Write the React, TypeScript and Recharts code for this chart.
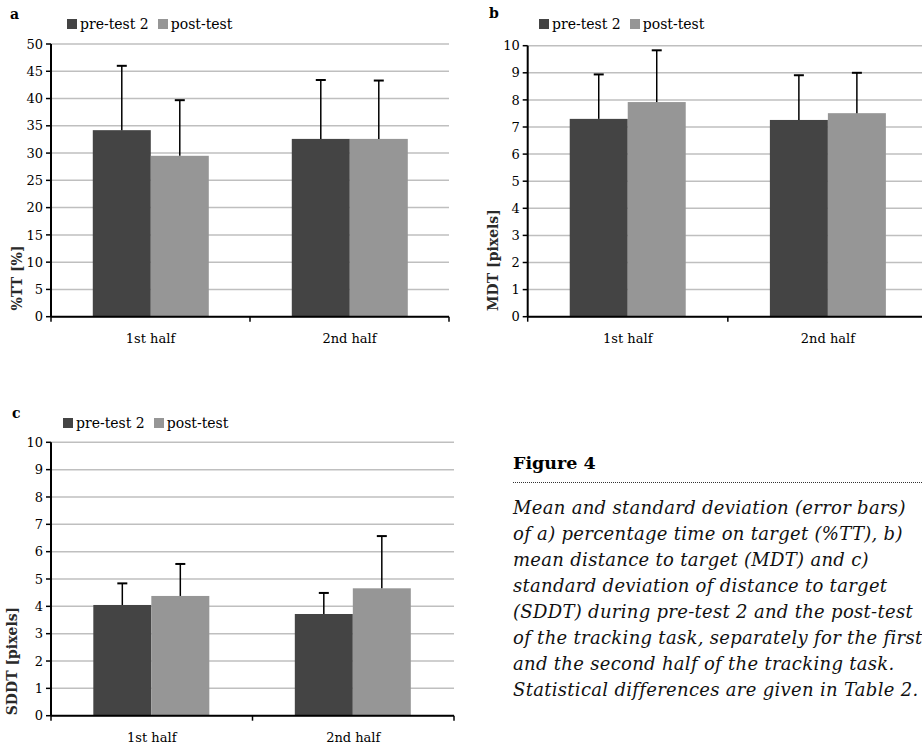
import { BarChart, Bar, XAxis, YAxis, CartesianGrid, Label } from 'recharts';

const halves = ['1st half', '2nd half'];

// a) percentage time on target
const ttPre = [34.2, 32.6];
const ttPreSd = [11.8, 10.8];
const ttPost = [29.5, 32.6];
const ttPostSd = [10.2, 10.7];
const ttTicks = [0, 5, 10, 15, 20, 25, 30, 35, 40, 45, 50];

// b) mean distance to target
const mdtPre = [7.3, 7.26];
const mdtPreSd = [1.64, 1.65];
const mdtPost = [7.92, 7.51];
const mdtPostSd = [1.91, 1.49];

// c) SD of distance to target
const sddtPre = [4.05, 3.72];
const sddtPreSd = [0.79, 0.77];
const sddtPost = [4.38, 4.66];
const sddtPostSd = [1.17, 1.91];

const pxTicks = [0, 1, 2, 3, 4, 5, 6, 7, 8, 9, 10];

const captionLines = [
  'Mean and standard deviation (error bars)',
  'of a) percentage time on target (%TT), b)',
  'mean distance to target (MDT) and c)',
  'standard deviation of distance to target',
  '(SDDT) during pre-test 2 and the post-test',
  'of the tracking task, separately for the first',
  'and the second half of the tracking task.',
  'Statistical differences are given in Table 2.',
];

const DARK = '#444444';
const LIGHT = '#969696';
const FONT = '"DejaVu Serif", serif';

const toRows = (pre: number[], preSd: number[], post: number[], postSd: number[]) =>
  halves.map((half, i) => ({ half, pre: pre[i], preSd: preSd[i], post: post[i], postSd: postSd[i] }));

// bar plus a one-sided (upward) SD whisker, scaled from the bar's own height
const barWithSd = (key: string, sdKey: string) => (props: any) => {
  const { x, y, width, height, fill, payload } = props;
  const v = payload[key];
  const pxPerUnit = v ? height / v : 0;
  const cx = x + width / 2;
  const top = y - payload[sdKey] * pxPerUnit;
  return (
    <g>
      <rect x={x} y={y} width={width} height={height} fill={fill} />
      <line x1={cx} y1={y} x2={cx} y2={top} stroke="#000" strokeWidth={1.5} />
      <line x1={cx - 5} y1={top} x2={cx + 5} y2={top} stroke="#000" strokeWidth={2} />
    </g>
  );
};

// category label with tick marks on the band edges
const HalfTick = (props: any) => {
  const { x, y, payload, index, visibleTicksCount } = props;
  const half = payload?.offset ?? 0;
  const axisY = y - 5;
  return (
    <g>
      {half > 0 && (
        <line x1={x - half} x2={x - half} y1={axisY} y2={axisY + 5} stroke="#000" strokeWidth={1.5} />
      )}
      {half > 0 && index === visibleTicksCount - 1 && (
        <line x1={x + half} x2={x + half} y1={axisY} y2={axisY + 5} stroke="#000" strokeWidth={1.5} />
      )}
      <text x={x} y={y + 21} textAnchor="middle" fill="#000" fontSize={13} fontFamily={FONT}>
        {payload.value}
      </text>
    </g>
  );
};

const axisTitle = (text: string, tx: number, ty: number) => () => (
  <text
    transform={`translate(${tx},${ty}) rotate(-90)`}
    textAnchor="middle"
    dominantBaseline="central"
    fontSize={14}
    fontWeight="bold"
    fontFamily={FONT}
    fill="#2a2a2a"
  >
    {text}
  </text>
);

type PanelProps = {
  rows: any[];
  ticks: number[];
  max: number;
  width: number;
  height: number;
  margin: { top: number; right: number; bottom: number; left: number };
  yWidth: number;
  title: string;
  titleX: number;
  titleY: number;
};

const Panel = ({ rows, ticks, max, width, height, margin, yWidth, title, titleX, titleY }: PanelProps) => (
  <BarChart width={width} height={height} data={rows} margin={margin} barCategoryGap="21%" barGap={0}>
    <CartesianGrid horizontal vertical={false} stroke="#bfbfbf" strokeWidth={1.5} />
    <XAxis
      dataKey="half"
      height={30}
      tickLine={false}
      tickSize={5}
      tickMargin={0}
      axisLine={{ stroke: '#000', strokeWidth: 2 }}
      tick={<HalfTick />}
      interval={0}
    />
    <YAxis
      width={yWidth}
      domain={[0, max]}
      ticks={ticks}
      interval={0}
      tickSize={5}
      tickMargin={3}
      axisLine={{ stroke: '#000', strokeWidth: 2 }}
      tickLine={{ stroke: '#000', strokeWidth: 1.5 }}
      tick={{ fill: '#000', fontSize: 13, fontFamily: FONT }}
    >
      <Label content={axisTitle(title, titleX, titleY)} />
    </YAxis>
    <Bar dataKey="pre" fill={DARK} isAnimationActive={false} shape={barWithSd('pre', 'preSd')} />
    <Bar dataKey="post" fill={LIGHT} isAnimationActive={false} shape={barWithSd('post', 'postSd')} />
  </BarChart>
);

const Legend = ({ left, top }: { left: number; top: number }) => (
  <div style={{ position: 'absolute', left, top, display: 'flex', alignItems: 'center', fontFamily: FONT, fontSize: 14, whiteSpace: 'nowrap' }}>
    <span style={{ width: 10, height: 10, background: DARK, marginRight: 3 }} />
    <span style={{ marginRight: 9 }}>pre-test 2</span>
    <span style={{ width: 10, height: 10, background: LIGHT, marginRight: 3 }} />
    <span>post-test</span>
  </div>
);

const PanelLetter = ({ left, top, text }: { left: number; top: number; text: string }) => (
  <div style={{ position: 'absolute', left, top, fontFamily: FONT, fontWeight: 'bold', fontSize: 14, lineHeight: '16px' }}>{text}</div>
);

export default function App() {
  return (
    <div style={{ position: 'absolute', left: 0, top: 0, width: 922, height: 748, overflow: 'hidden', background: '#fff' }}>
      <div style={{ position: 'absolute', left: 0, top: 0 }}>
        <Panel
          rows={toRows(ttPre, ttPreSd, ttPost, ttPostSd)}
          ticks={ttTicks}
          max={50}
          width={460}
          height={360}
          margin={{ top: 44, right: 11, bottom: 13.3, left: 0 }}
          yWidth={51}
          title="%TT [%]"
          titleX={17}
          titleY={278}
        />
      </div>
      <div style={{ position: 'absolute', left: 460, top: 0 }}>
        <Panel
          rows={toRows(mdtPre, mdtPreSd, mdtPost, mdtPostSd)}
          ticks={pxTicks}
          max={10}
          width={470}
          height={360}
          margin={{ top: 45.7, right: 2, bottom: 13.3, left: 0 }}
          yWidth={67.7}
          title="MDT [pixels]"
          titleX={33}
          titleY={260}
        />
      </div>
      <div style={{ position: 'absolute', left: 0, top: 390 }}>
        <Panel
          rows={toRows(sddtPre, sddtPreSd, sddtPost, sddtPostSd)}
          ticks={pxTicks}
          max={10}
          width={460}
          height={358}
          margin={{ top: 52.3, right: 6, bottom: 2.3, left: 0 }}
          yWidth={51}
          title="SDDT [pixels]"
          titleX={12}
          titleY={271}
        />
      </div>

      <PanelLetter left={10} top={6} text="a" />
      <PanelLetter left={489} top={5} text="b" />
      <PanelLetter left={12} top={405} text="c" />
      <Legend left={67} top={16} />
      <Legend left={539} top={16} />
      <Legend left={63} top={415} />

      <div style={{ position: 'absolute', left: 513, top: 452, fontFamily: FONT, fontWeight: 'bold', fontSize: 17.5, lineHeight: '22px' }}>
        Figure 4
      </div>
      <div style={{ position: 'absolute', left: 513, top: 482, width: 409, borderTop: '1px dotted #333' }} />
      {captionLines.map((line, i) => (
        <div
          key={line}
          style={{
            position: 'absolute',
            left: 513,
            top: 495 + i * 26,
            fontFamily: FONT,
            fontStyle: 'italic',
            fontSize: 18,
            lineHeight: '26px',
            letterSpacing: 0.3,
            whiteSpace: 'nowrap',
            color: '#111',
          }}
        >
          {line}
        </div>
      ))}
    </div>
  );
}
